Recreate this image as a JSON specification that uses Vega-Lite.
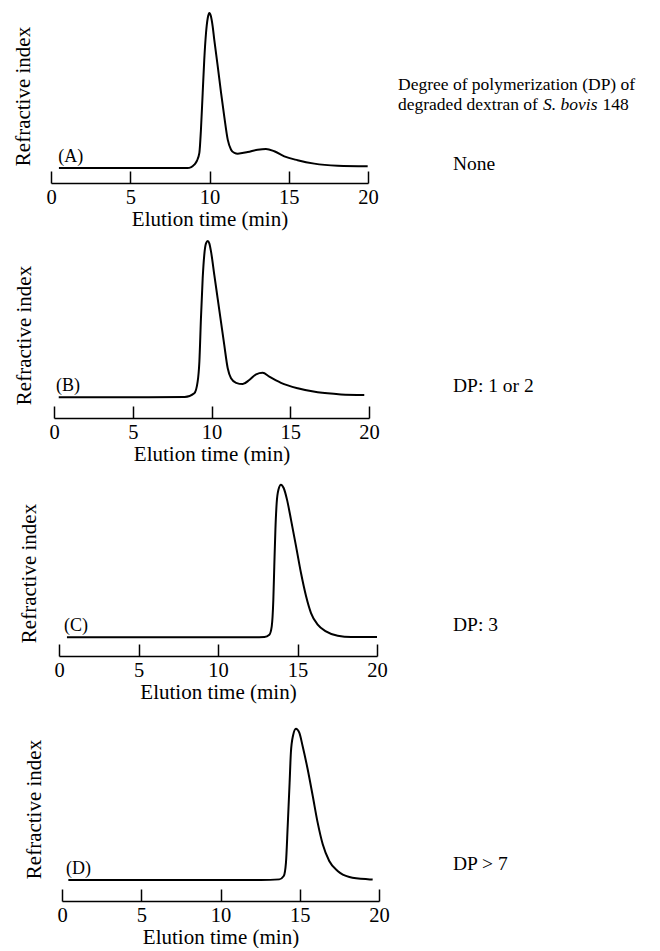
{
  "$schema": "https://vega.github.io/schema/vega-lite/v6.json",
  "padding": {"left": 11, "top": 9, "right": 0, "bottom": 0},
  "background": "white",
  "spacing": 7,
  "config": {
    "font": "Liberation Serif",
    "view": {"stroke": null, "fill": "white"},
    "axisX": {
      "domainColor": "black", "domainWidth": 1.5,
      "tickColor": "black", "tickWidth": 1.5, "tickSize": -12,
      "labelFontSize": 20.5, "labelColor": "black", "labelPadding": 16, "labelFlush": false,
      "titleFontSize": 21, "titleFontWeight": "normal", "titleColor": "black", "titlePadding": 1,
      "grid": false
    },
    "axisY": {
      "domain": false, "ticks": false, "labels": false, "grid": false,
      "titleFontSize": 21, "titleFontWeight": "normal", "titleColor": "black"
    },
    "line": {"color": "black", "strokeWidth": 2, "interpolate": "monotone"},
    "text": {"font": "Liberation Serif", "color": "black"}
  },
  "datasets": {
    "A": [
      {"t": 0.5, "v": 0}, {"t": 3, "v": 0}, {"t": 6, "v": 0}, {"t": 8.6, "v": 0}, {"t": 8.85, "v": 0.006},
      {"t": 9.04, "v": 0.021}, {"t": 9.2, "v": 0.045}, {"t": 9.36, "v": 0.097}, {"t": 9.46, "v": 0.247},
      {"t": 9.57, "v": 0.484}, {"t": 9.67, "v": 0.699}, {"t": 9.78, "v": 0.871}, {"t": 9.89, "v": 0.968},
      {"t": 9.99, "v": 1.0}, {"t": 10.09, "v": 0.979}, {"t": 10.2, "v": 0.914}, {"t": 10.3, "v": 0.828},
      {"t": 10.52, "v": 0.656}, {"t": 10.73, "v": 0.484}, {"t": 10.93, "v": 0.333}, {"t": 11.15, "v": 0.183},
      {"t": 11.36, "v": 0.118}, {"t": 11.57, "v": 0.097}, {"t": 11.78, "v": 0.092}, {"t": 12.41, "v": 0.103},
      {"t": 13.04, "v": 0.118}, {"t": 13.56, "v": 0.123}, {"t": 14.09, "v": 0.108}, {"t": 14.72, "v": 0.075},
      {"t": 15.56, "v": 0.05}, {"t": 16.61, "v": 0.028}, {"t": 18.09, "v": 0.015}, {"t": 19.98, "v": 0.011}
    ],
    "B": [
      {"t": 0.3, "v": 0}, {"t": 3, "v": 0}, {"t": 6, "v": 0}, {"t": 8.3, "v": 0.002}, {"t": 8.91, "v": 0.026},
      {"t": 9.12, "v": 0.1}, {"t": 9.23, "v": 0.228}, {"t": 9.33, "v": 0.505}, {"t": 9.44, "v": 0.761},
      {"t": 9.54, "v": 0.91}, {"t": 9.65, "v": 0.985}, {"t": 9.76, "v": 1.0}, {"t": 9.86, "v": 0.985},
      {"t": 9.97, "v": 0.932}, {"t": 10.18, "v": 0.782}, {"t": 10.39, "v": 0.633}, {"t": 10.6, "v": 0.484},
      {"t": 10.81, "v": 0.335}, {"t": 11.03, "v": 0.186}, {"t": 11.24, "v": 0.122}, {"t": 11.56, "v": 0.093},
      {"t": 11.98, "v": 0.085}, {"t": 12.4, "v": 0.111}, {"t": 12.83, "v": 0.147}, {"t": 13.25, "v": 0.157},
      {"t": 13.67, "v": 0.132}, {"t": 14.41, "v": 0.093}, {"t": 15.47, "v": 0.058}, {"t": 16.74, "v": 0.032},
      {"t": 18.22, "v": 0.019}, {"t": 19.7, "v": 0.015}
    ],
    "C": [
      {"t": 0.5, "v": 0}, {"t": 4, "v": 0}, {"t": 8, "v": 0}, {"t": 12.08, "v": 0}, {"t": 12.92, "v": 0.002},
      {"t": 13.23, "v": 0.017}, {"t": 13.38, "v": 0.072}, {"t": 13.48, "v": 0.246}, {"t": 13.54, "v": 0.465},
      {"t": 13.61, "v": 0.705}, {"t": 13.69, "v": 0.88}, {"t": 13.8, "v": 0.967}, {"t": 13.96, "v": 1.0},
      {"t": 14.13, "v": 0.978}, {"t": 14.34, "v": 0.902}, {"t": 14.59, "v": 0.771}, {"t": 14.91, "v": 0.596},
      {"t": 15.22, "v": 0.421}, {"t": 15.54, "v": 0.269}, {"t": 15.85, "v": 0.159}, {"t": 16.27, "v": 0.083},
      {"t": 16.79, "v": 0.039}, {"t": 17.53, "v": 0.01}, {"t": 18.37, "v": 0.002}, {"t": 20.0, "v": 0.002}
    ],
    "D": [
      {"t": 0.4, "v": 0}, {"t": 4, "v": 0}, {"t": 8, "v": 0}, {"t": 12.56, "v": 0}, {"t": 13.71, "v": 0.004},
      {"t": 13.99, "v": 0.026}, {"t": 14.13, "v": 0.115}, {"t": 14.24, "v": 0.357}, {"t": 14.36, "v": 0.643},
      {"t": 14.44, "v": 0.841}, {"t": 14.57, "v": 0.952}, {"t": 14.76, "v": 1.0}, {"t": 14.97, "v": 0.974},
      {"t": 15.18, "v": 0.886}, {"t": 15.5, "v": 0.732}, {"t": 15.82, "v": 0.555}, {"t": 16.13, "v": 0.379},
      {"t": 16.45, "v": 0.236}, {"t": 16.86, "v": 0.126}, {"t": 17.39, "v": 0.059}, {"t": 18.13, "v": 0.02},
      {"t": 19.29, "v": 0.005}, {"t": 19.6, "v": 0.003}
    ],
    "labels": [
      {"panel": "A", "tag": "(A)", "note": "None", "head1": "Degree of polymerization (DP) of", "head2": "degraded dextran of", "head3": "S. bovis", "head4": "148"},
      {"panel": "B", "tag": "(B)", "note": "DP: 1 or 2"},
      {"panel": "C", "tag": "(C)", "note": "DP: 3"},
      {"panel": "D", "tag": "(D)", "note": "DP > 7"}
    ]
  },
  "vconcat": [
    {
      "width": 330, "height": 170,
      "layer": [
        {
          "data": {"name": "A"},
          "mark": {"type": "line"},
          "encoding": {
            "x": {"field": "t", "type": "quantitative", "scale": {"domain": [0, 20], "range": [0, 317], "nice": false}, "axis": {"title": "Elution time (min)", "values": [0, 5, 10, 15, 20]}},
            "y": {"field": "v", "type": "quantitative", "scale": {"domain": [-0.097, 1], "nice": false, "zero": false}, "axis": {"title": "Refractive index", "titlePadding": 18, "titleY": 83}}
          }
        },
        {
          "data": {"name": "labels"},
          "transform": [{"filter": "datum.panel === 'A'"}],
          "layer": [
            {"mark": {"type": "text", "align": "left", "baseline": "alphabetic", "fontSize": 18, "dy": -6},
             "encoding": {"x": {"datum": 0.45}, "y": {"datum": 0}, "text": {"field": "tag"}}},
            {"mark": {"type": "text", "align": "left", "baseline": "middle", "fontSize": 19.5, "dx": 85, "dy": -4},
             "encoding": {"x": {"datum": 20}, "y": {"datum": 0}, "text": {"field": "note"}}},
            {"mark": {"type": "text", "align": "left", "baseline": "middle", "fontSize": 17.5, "dx": 30, "dy": -83},
             "encoding": {"x": {"datum": 20}, "y": {"datum": 0}, "text": {"field": "head1"}}},
            {"mark": {"type": "text", "align": "left", "baseline": "middle", "fontSize": 17.5, "dx": 30, "dy": -63},
             "encoding": {"x": {"datum": 20}, "y": {"datum": 0}, "text": {"field": "head2"}}},
            {"mark": {"type": "text", "align": "left", "baseline": "middle", "fontSize": 17.5, "fontStyle": "italic", "dx": 175, "dy": -63},
             "encoding": {"x": {"datum": 20}, "y": {"datum": 0}, "text": {"field": "head3"}}},
            {"mark": {"type": "text", "align": "left", "baseline": "middle", "fontSize": 17.5, "dx": 234.5, "dy": -63},
             "encoding": {"x": {"datum": 20}, "y": {"datum": 0}, "text": {"field": "head4"}}}
          ]
        }
      ]
    },
    {
      "width": 330, "height": 177,
      "layer": [
        {
          "data": {"name": "B"},
          "mark": {"type": "line"},
          "encoding": {
            "x": {"field": "t", "type": "quantitative", "scale": {"domain": [0, 20], "range": [3, 318], "nice": false}, "axis": {"title": "Elution time (min)", "values": [0, 5, 10, 15, 20]}},
            "y": {"field": "v", "type": "quantitative", "scale": {"domain": [-0.132, 1], "nice": false, "zero": false}, "axis": {"title": "Refractive index", "titlePadding": 17, "titleY": 94}}
          }
        },
        {
          "data": {"name": "labels"},
          "transform": [{"filter": "datum.panel === 'B'"}],
          "layer": [
            {"mark": {"type": "text", "align": "left", "baseline": "alphabetic", "fontSize": 18, "dy": -6},
             "encoding": {"x": {"datum": 0.13}, "y": {"datum": 0}, "text": {"field": "tag"}}},
            {"mark": {"type": "text", "align": "left", "baseline": "middle", "fontSize": 19.5, "dx": 84, "dy": -11},
             "encoding": {"x": {"datum": 20}, "y": {"datum": 0}, "text": {"field": "note"}}}
          ]
        }
      ]
    },
    {
      "width": 330, "height": 184,
      "layer": [
        {
          "data": {"name": "C"},
          "mark": {"type": "line"},
          "encoding": {
            "x": {"field": "t", "type": "quantitative", "scale": {"domain": [0, 20], "range": [8, 326], "nice": false}, "axis": {"title": "Elution time (min)", "values": [0, 5, 10, 15, 20]}},
            "y": {"field": "v", "type": "quantitative", "scale": {"domain": [-0.1225, 1.083], "nice": false, "zero": false}, "axis": {"title": "Refractive index", "titlePadding": 12, "titleY": 101}}
          }
        },
        {
          "data": {"name": "labels"},
          "transform": [{"filter": "datum.panel === 'C'"}],
          "layer": [
            {"mark": {"type": "text", "align": "left", "baseline": "alphabetic", "fontSize": 18, "dy": -6},
             "encoding": {"x": {"datum": 0.31}, "y": {"datum": 0}, "text": {"field": "tag"}}},
            {"mark": {"type": "text", "align": "left", "baseline": "middle", "fontSize": 19.5, "dx": 76, "dy": -12},
             "encoding": {"x": {"datum": 20}, "y": {"datum": 0}, "text": {"field": "note"}}}
          ]
        }
      ]
    },
    {
      "width": 330, "height": 191,
      "layer": [
        {
          "data": {"name": "D"},
          "mark": {"type": "line"},
          "encoding": {
            "x": {"field": "t", "type": "quantitative", "scale": {"domain": [0, 20], "range": [11, 328], "nice": false}, "axis": {"title": "Elution time (min)", "values": [0, 5, 10, 15, 20]}},
            "y": {"field": "v", "type": "quantitative", "scale": {"domain": [-0.139, 1.124], "nice": false, "zero": false}, "axis": {"title": "Refractive index", "titlePadding": 7, "titleY": 99}}
          }
        },
        {
          "data": {"name": "labels"},
          "transform": [{"filter": "datum.panel === 'D'"}],
          "layer": [
            {"mark": {"type": "text", "align": "left", "baseline": "alphabetic", "fontSize": 18, "dy": -6},
             "encoding": {"x": {"datum": 0.25}, "y": {"datum": 0}, "text": {"field": "tag"}}},
            {"mark": {"type": "text", "align": "left", "baseline": "middle", "fontSize": 19.5, "dx": 74, "dy": -16},
             "encoding": {"x": {"datum": 20}, "y": {"datum": 0}, "text": {"field": "note"}}}
          ]
        }
      ]
    }
  ]
}
